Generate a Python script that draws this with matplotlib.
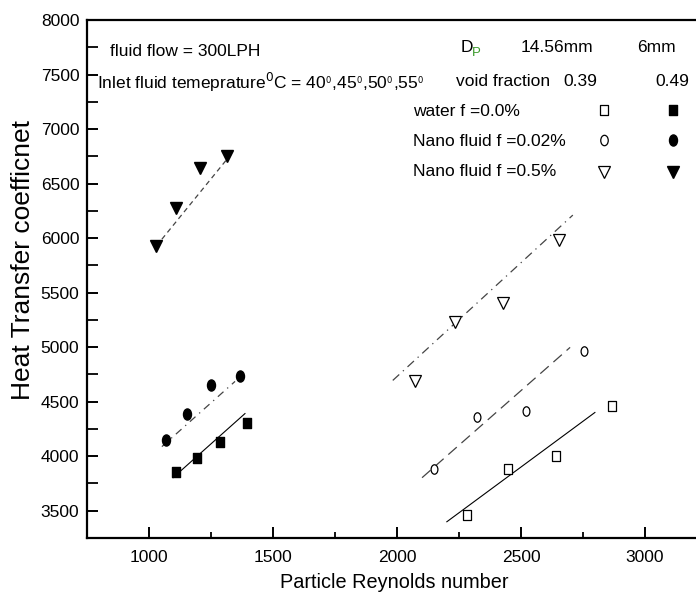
import numpy as np
import matplotlib
matplotlib.use("Agg")
import matplotlib.pyplot as plt
from matplotlib.path import Path
from matplotlib.transforms import Affine2D

plt.rcParams['font.family'] = ['Liberation Sans', 'DejaVu Sans']

# ---- data ----
# D_p = 14.56 mm (open markers), D_p = 6 mm (filled markers)
water_14_x = [2282, 2447, 2641, 2867]
water_14_y = [3463, 3886, 4005, 4465]
nano002_14_x = [2149, 2323, 2520, 2754]
nano002_14_y = [3886, 4355, 4410, 4961]
nano05_14_x = [2073, 2234, 2427, 2653]
nano05_14_y = [4686, 5228, 5402, 5981]

water_6_x = [1109, 1194, 1286, 1395]
water_6_y = [3858, 3987, 4134, 4300]
nano002_6_x = [1069, 1153, 1250, 1367]
nano002_6_y = [4152, 4391, 4649, 4731]
nano05_6_x = [1028, 1109, 1206, 1314]
nano05_6_y = [5926, 6275, 6643, 6753]

# trend lines: (x start, x end), (y start, y end)
trend_water_14_x = [2201, 2798]
trend_water_14_y = [3399, 4401]
trend_nano002_14_x = [2101, 2698]
trend_nano002_14_y = [3803, 4998]
trend_nano05_14_x = [1983, 2709]
trend_nano05_14_y = [4695, 6211]
trend_water_6_x = [1097, 1387]
trend_water_6_y = [3803, 4391]
trend_nano002_6_x = [1052, 1347]
trend_nano002_6_y = [4088, 4686]
trend_nano05_6_x = [1052, 1335]
trend_nano05_6_y = [5990, 6781]

x_ticks = [1000, 1500, 2000, 2500, 3000]
y_ticks = [3500, 4000, 4500, 5000, 5500, 6000, 6500, 7000, 7500, 8000]

W, H = 696, 597
fig = plt.figure(figsize=(W / 100, H / 100), dpi=100)
L, R, T, B = 87, 707, 20, 538
ax = fig.add_axes([L / W, 1 - B / H, (R - L) / W, (B - T) / H])
ax.set_xlim(750, 3250)
ax.set_ylim(3250, 8000)

ell = Path.unit_circle().transformed(Affine2D().scale(0.72, 1.0))
sq = Path([(-0.43, -0.5), (0.43, -0.5), (0.43, 0.5), (-0.43, 0.5), (-0.43, -0.5)],
          [Path.MOVETO, Path.LINETO, Path.LINETO, Path.LINETO, Path.CLOSEPOLY])

lc = '#444444'
# trend lines
ax.plot(trend_water_14_x, trend_water_14_y, color='black', lw=0.8, ls='-')
ax.plot(trend_nano002_14_x, trend_nano002_14_y, color=lc, lw=0.9, ls=(0, (9, 5)))
ax.plot(trend_nano05_14_x, trend_nano05_14_y, color=lc, lw=0.9, ls=(0, (7, 4, 1, 4)))
ax.plot(trend_water_6_x, trend_water_6_y, color='black', lw=0.8, ls='-')
ax.plot(trend_nano002_6_x, trend_nano002_6_y, color=lc, lw=0.9, ls=(0, (6, 4, 1, 4)))
ax.plot(trend_nano05_6_x, trend_nano05_6_y, color=lc, lw=0.9, ls=(0, (4, 3)))

# markers
ax.plot(water_14_x, water_14_y, ls='none', marker=sq, ms=6.8, mfc='white', mec='black', mew=0.9)
ax.plot(nano002_14_x, nano002_14_y, ls='none', marker=ell, ms=6.8, mfc='white', mec='black', mew=0.9)
ax.plot(nano05_14_x, nano05_14_y, ls='none', marker='v', ms=8.3, mfc='white', mec='black', mew=0.9)
ax.plot(water_6_x, water_6_y, ls='none', marker=sq, ms=7.3, mfc='black', mec='black')
ax.plot(nano002_6_x, nano002_6_y, ls='none', marker=ell, ms=8.0, mfc='black', mec='black')
ax.plot(nano05_6_x, nano05_6_y, ls='none', marker='v', ms=8.6, mfc='black', mec='black')

# axes styling
for s in ['left', 'bottom', 'top']:
    ax.spines[s].set_linewidth(1.6)
ax.spines['right'].set_visible(False)
ax.set_xticks(x_ticks)
ax.set_yticks(y_ticks)
ax.set_xticks(np.arange(1250, 3250, 500), minor=True)
ax.set_yticks(np.arange(3750, 8000, 500), minor=True)
ax.tick_params(which='major', direction='in', length=8, width=1.4, labelsize=12.5)
ax.tick_params(axis='y', which='minor', direction='in', length=8, width=1.3)
ax.tick_params(axis='x', which='minor', direction='in', length=4, width=1.3)
ax.tick_params(axis='x', pad=8.5)
ax.tick_params(axis='y', pad=5.5)

fig.text(23 / W, 1 - 260 / H, 'Heat Transfer coefficnet', rotation=90,
         ha='center', va='center', fontsize=19)
fig.text(394 / W, 1 - 583 / H, 'Particle Reynolds number',
         ha='center', va='center', fontsize=14.3)

# annotations
def ftext(x, y, s, **kw):
    fig.text(x / W, 1 - y / H, s, va='center', **kw)

FS = 12.5
ftext(110, 52, 'fluid flow = 300LPH', fontsize=FS)
ftext(97, 82, r'Inlet fluid temeprature$^{0}$C = 40${}^{{}_{0}}$,45${}^{{}_{0}}$,50${}^{{}_{0}}$,55${}^{{}_{0}}$',
      fontsize=FS)
ftext(461, 47, 'D', fontsize=FS)
ftext(472, 53, 'P', fontsize=9.5, color='#3a9a2a')
ftext(521, 47, '14.56mm', fontsize=FS)
ftext(637, 47, '6mm', fontsize=FS)
ftext(456, 82, 'void fraction', fontsize=FS)
ftext(563, 82, '0.39', fontsize=FS)
ftext(655, 82, '0.49', fontsize=FS)
ftext(413, 111, 'water f =0.0%', fontsize=FS)
ftext(413, 141, 'Nano fluid f =0.02%', fontsize=FS)
ftext(413, 171, 'Nano fluid f =0.5%', fontsize=FS)

legend_rows = [(110, sq, 6.5, 7.0), (140, ell, 7.5, 8.0), (172, 'v', 8.3, 8.6)]
for y, m, ms_open, ms_fill in legend_rows:
    fig.add_artist(plt.Line2D([604 / W], [1 - y / H], marker=m, ms=ms_open, mfc='white',
                              mec='black', mew=0.9, ls='none', transform=fig.transFigure))
    fig.add_artist(plt.Line2D([673 / W], [1 - y / H], marker=m, ms=ms_fill, mfc='black',
                              mec='black', ls='none', transform=fig.transFigure))

fig.savefig('out.png', dpi=100)
